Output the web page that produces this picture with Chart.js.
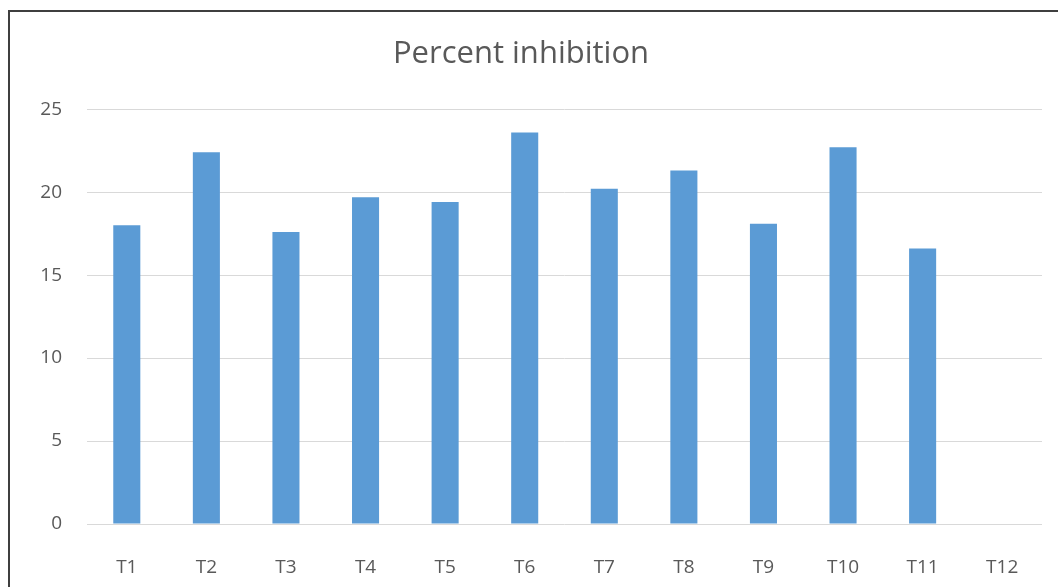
<!DOCTYPE html>
<html>
<head>
<meta charset="utf-8">
<script src="https://cdn.jsdelivr.net/npm/chart.js@4.4.1/dist/chart.umd.min.js"></script>
<style>
  html, body { margin: 0; padding: 0; background: #ffffff; overflow: hidden; }
  #wrap { position: relative; width: 1058px; height: 587px; }
  #frame {
    position: absolute; left: 8px; top: 10px; width: 1100px; height: 620px;
    border-left: 2px solid #3f3f3f; border-top: 2px solid #3f3f3f;
    box-sizing: border-box; pointer-events: none;
  }
  canvas { position: absolute; left: 0; top: 0; }
</style>
</head>
<body>
<div id="wrap">
  <canvas id="chart" width="1058" height="587"></canvas>
  <div id="frame"></div>
</div>
<script>
// Treatments and their percent inhibition
const categories = ['T1', 'T2', 'T3', 'T4', 'T5', 'T6', 'T7', 'T8', 'T9', 'T10', 'T11', 'T12'];
const inhibition = [18.0, 22.4, 17.6, 19.7, 19.4, 23.6, 20.2, 21.3, 18.1, 22.7, 16.6, 0];
const yTicks = [0, 5, 10, 15, 20, 25];

const textGrey = '#595959';
const fontFamily = '"Open Sans", "Noto Sans", sans-serif';

new Chart(document.getElementById('chart'), {
  type: 'bar',
  data: {
    labels: categories,
    datasets: [{
      label: 'Percent inhibition',
      data: inhibition,
      backgroundColor: '#5B9BD5',
      borderWidth: 0,
      barPercentage: 0.34,
      categoryPercentage: 1.0
    }]
  },
  options: {
    responsive: false,
    animation: false,
    layout: { padding: { top: 15, right: 16, bottom: 0, left: 0 } },
    plugins: {
      legend: { display: false },
      tooltip: { enabled: false },
      title: {
        display: true,
        text: 'Percent inhibition',
        color: textGrey,
        font: { family: fontFamily, size: 31, weight: 'normal', lineHeight: 1.2 },
        padding: { top: 21, bottom: 36 }
      }
    },
    scales: {
      x: {
        grid: { display: false },
        border: { display: false },
        ticks: {
          color: textGrey,
          font: { family: fontFamily, size: 19 },
          padding: 24,
          maxRotation: 0
        },
        afterFit: (s) => { s.height = 63; }
      },
      y: {
        min: 0,
        max: 25,
        border: { display: false },
        grid: { color: '#D9D9D9', lineWidth: 1, drawTicks: false },
        afterBuildTicks: (s) => { s.ticks = yTicks.map(v => ({ value: v })); },
        ticks: {
          color: textGrey,
          font: { family: fontFamily, size: 19 },
          padding: 25
        },
        afterFit: (s) => { s.width = 87; }
      }
    }
  }
});
</script>
</body>
</html>
